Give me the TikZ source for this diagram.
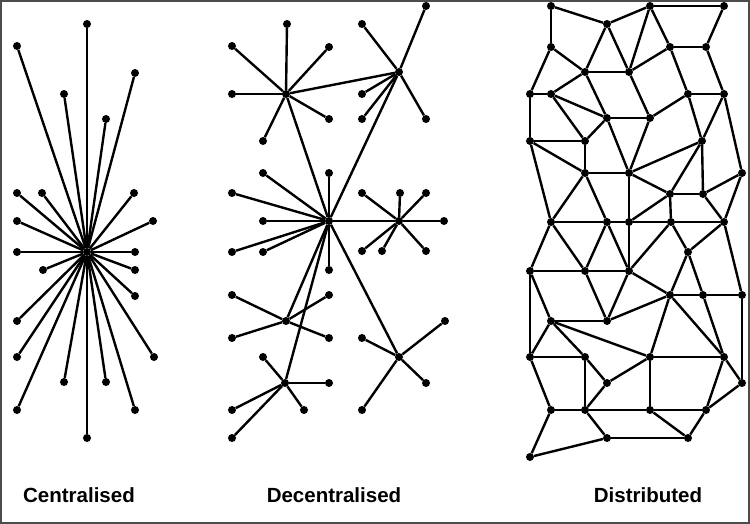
\documentclass[tikz,border=0pt]{standalone}
\usepackage{fontspec}
\setmainfont{Liberation Sans}
\begin{document}
\begin{tikzpicture}[x=1pt,y=-1pt,
  dot/.style={circle,fill=black,inner sep=0pt,minimum size=8pt},
  link/.style={line width=2.4pt,black},
  caption/.style={font=\bfseries\fontsize{20.5}{24}\selectfont,anchor=base}]
\useasboundingbox (0,0) rectangle (750,524);
\draw[line width=2.4pt,black!70] (1,1) rectangle (749,523);
\node[dot] (c) at (87,252) {};
\foreach \x/\y [count=\i] in {87/24,17/46,135/73,64/94,106/119,17/193,42/193,134/193,
    17/221,153/221,17/252,135/252,43/270,135/270,135/296,17/321,17/357,154/357,
    64/382,106/382,17/410,135/410,87/438} {
  \node[dot] (c\i) at (\x,\y) {};
  \draw[link] (c) -- (c\i);
}
\foreach \h/\x/\y in {dA/286/94,dB/399/72,dC/329/221,dD/399/221,dE/286/321,dF/285/383,dG/399/357}
  \node[dot] (\h) at (\x,\y) {};
\foreach \h/\pts in {dA/{287/24,232/46,329/47,232/94,329/119,263/141},
    dB/{426/6,362/24,362/94,362/119,426/119},
    dC/{263/173,329/173,232/193,263/221,232/252,263/252,329/270},
    dD/{362/193,400/193,426/193,444/221,362/251,382/251,426/251},
    dE/{232/295,329/295,232/338,329/338},
    dF/{263/357,329/383,232/410,304/410,232/438},
    dG/{362/338,445/321,426/383,362/410}} {
  \foreach \x/\y [count=\i] in \pts {
    \node[dot] (\h\i) at (\x,\y) {};
    \draw[link] (\h) -- (\h\i);
  }
}
\foreach \a/\b in {dA/dB,dA/dC,dB/dC,dC/dD,dC/dE,dC/dF,dC/dG}
  \draw[link] (\a) -- (\b);
\foreach \x/\y [count=\i] in {551/6,650/6,724/6,607/24,551/47,670/47,706/47,585/72,629/72,
    530/94,551/94,688/94,724/94,607/118,650/118,702/141,629/173,742/173,670/194,703/194,
    671/222,724/222,530/141,585/141,585/173,551/222,607/222,629/222,530/271,585/271,
    629/271,688/252,670/295,703/295,742/295,551/321,607/321,530/357,585/357,650/357,
    724/357,742/383,650/410,706/410,688/438,607/383,551/410,585/410,607/438,530/457}
  \node[dot] (n\i) at (\x,\y) {};
\foreach \a/\b in {1/4,4/2,2/3,1/5,3/7,2/6,2/9,4/8,4/9,6/7,6/9,5/8,5/10,8/9,8/11,10/11,
    10/23,11/14,8/14,11/24,9/15,14/15,6/12,7/13,12/13,12/15,14/24,15/17,12/16,13/16,
    13/18,16/17,16/19,16/20,19/20,20/18,19/21,18/22,20/22,21/22,
    23/24,24/25,23/25,25/17,23/26,25/26,25/27,14/17,17/28,17/19,28/19,26/27,27/28,28/21,
    26/29,26/30,27/30,27/31,28/31,21/31,21/32,22/32,22/35,29/30,30/31,29/38,29/36,
    30/37,31/37,31/33,32/33,32/34,33/34,34/35,36/37,37/33,33/40,33/41,34/41,36/38,
    36/39,36/40,38/39,40/41,35/42,41/42,40/43,41/44,42/44,43/44,43/45,44/45,39/46,
    46/40,39/48,46/48,38/47,47/48,48/43,48/49,49/45,47/50,50/49}
  \draw[link] (n\a) -- (n\b);
\node[caption] (lcen) at (79,502) {Centralised};
\node[caption] (ldec) at (334,502) {Decentralised};
\node[caption] (ldis) at (648,502) {Distributed};
\end{tikzpicture}
\end{document}
